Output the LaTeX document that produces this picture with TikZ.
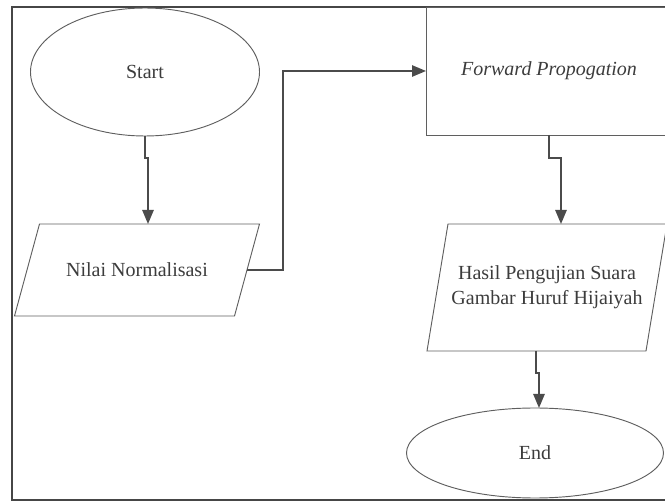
\documentclass[tikz,border=0pt]{standalone}
\usepackage{fontspec}
\setmainfont{Liberation Serif}
\usetikzlibrary{arrows.meta,calc,shapes.geometric}

\begin{document}
\begin{tikzpicture}[x=0.75pt,y=0.75pt,yscale=-1,
  shapeline/.style={draw={rgb, 255:red, 95; green, 95; blue, 95}, line width=0.7pt},
  flow/.style={draw={rgb, 255:red, 75; green, 75; blue, 75}, line width=1.2pt,
    -{Triangle[length=10.5pt,width=8.5pt]}},
  lbl/.style={font=\fontsize{15}{19}\selectfont, text={rgb, 255:red, 60; green, 60; blue, 60},
    inner sep=0pt, outer sep=0pt}]
  \useasboundingbox (0,0) rectangle (665,502);
  \clip (0,0) rectangle (665,502);

  %Shape: Frame
  \draw [draw={rgb, 255:red, 70; green, 70; blue, 70}, line width=1.6pt] (12,7) rectangle (720,500);

  %Shape: Ellipse [start]
  \node [ellipse, shapeline, lbl, minimum width=171.75pt, minimum height=96pt] (start) at (145,72) {Start};
  %Shape: Parallelogram [norm]
  \node [lbl, minimum width=183.75pt, minimum height=69pt] (norm) at (137,270) {Nilai Normalisasi};
  \draw [shapeline] ($(norm.north west)+(25,0)$) -- (norm.north east) -- ($(norm.south east)+(-25,0)$) -- (norm.south west) -- cycle;
  %Shape: Rectangle [fwd]
  \node [rectangle, shapeline, lbl, minimum width=184.5pt, minimum height=96pt] (fwd) at (549,71) {\itshape Forward Propogation};
  %Shape: Parallelogram [result]
  \node [lbl, align=center, minimum width=180pt, minimum height=95.25pt] (result) at (547,287.5) {Hasil Pengujian Suara\\Gambar Huruf Hijaiyah};
  \draw [shapeline] ($(result.north west)+(21,0)$) -- (result.north east) -- ($(result.south east)+(-21,0)$) -- (result.south west) -- cycle;
  %Shape: Ellipse [finish]
  \node [ellipse, shapeline, lbl, minimum width=192.75pt, minimum height=67.5pt] (finish) at (535,453) {End};

  %Connectors
  \draw [flow] (start.south) -- ++(0,22) -- ++(3,0) coordinate (j1) -- (j1 |- norm.north);
  \draw [flow] ($(norm.east)+(-12.5,0)$) -- ++(36,0) |- (fwd.west);
  \draw [flow] (fwd.south) -- ++(0,23) -- ++(12,0) coordinate (j2) -- (j2 |- result.north);
  \draw [flow] ($(result.south)+(-11,0)$) -- ++(0,22) -- ++(3,0) coordinate (j3) -- (j3 |- finish.north);
\end{tikzpicture}
\end{document}
